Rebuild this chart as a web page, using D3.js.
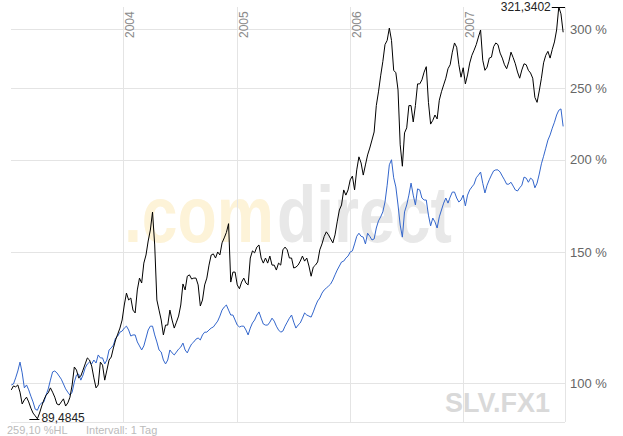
<!DOCTYPE html>
<html><head><meta charset="utf-8">
<script src="https://cdn.jsdelivr.net/npm/d3@7"></script>
<style>html,body{margin:0;padding:0;background:#fff;}svg{display:block;font-family:Arial,"Liberation Sans",sans-serif;}</style>
</head><body>
<svg id="c" width="623" height="436"></svg>
<script>
// ---- data (weekly closes, % of start) ----
const startDate = "2003-01-06";
const stepDays = 7;
const silver = [
97.9,99.1,98.8,99.4,97.2,93.7,94.9,95.7,94.3,92.5,91.1,90.3,89.4845,91.1,93.1,94.9,96.3,97.0,98.5,97.2,
95.7,93.7,93.4,94.3,95.2,93.1,94.0,95.7,99.4,105.1,104.1,101.6,102.2,104.1,106.1,108.1,107.4,105.4,101.6,98.5,
99.4,106.7,105.7,100.9,104.1,107.4,108.4,111.5,114.3,116.4,118.6,121.6,127.4,132.2,129.4,130.2,125.4,124.3,133.5,138.5,
136.4,145.1,148.8,155.4,160.8,170.0,153.5,129.4,125.4,121.6,116.1,119.7,119.7,125.4,121.6,118.6,120.8,123.1,127.4,136.0,
133.5,139.3,139.9,138.1,138.5,138.5,135.6,127.0,129.4,135.6,138.5,144.2,148.8,149.3,147.4,150.2,148.8,154.5,156.9,159.6,
164.0,136.8,141.1,141.1,135.6,134.0,136.8,138.5,136.4,135.6,147.4,150.7,149.8,152.5,153.5,147.4,145.1,147.4,145.1,148.3,
144.2,144.2,142.0,145.1,144.2,151.2,152.5,151.2,147.4,147.4,142.9,143.3,144.2,146.0,148.3,146.0,147.4,143.8,139.3,143.3,
144.2,145.6,151.2,154.0,157.6,159.9,158.4,156.4,154.5,158.4,164.9,171.1,173.8,182.1,179.2,182.1,187.9,190.1,182.1,193.8,
201.8,198.0,190.7,196.8,203.0,207.4,212.6,218.0,236.6,246.9,259.5,271.2,285.9,289.7,301.0,289.7,264.0,262.0,248.4,209.5,
196.0,217.4,220.8,236.6,236.6,224.9,236.6,253.1,253.1,256.3,262.5,267.0,239.0,223.4,226.0,229.8,227.0,240.6,247.0,252.3,
257.6,265.3,268.6,279.3,287.4,283.6,268.6,258.4,266.1,253.1,260.2,270.0,276.6,281.0,285.9,292.7,299.2,272.4,264.0,266.6,
274.2,275.0,284.1,287.4,285.9,278.5,274.2,268.6,265.3,271.1,279.3,274.6,269.4,262.6,257.6,264.3,269.4,268.6,264.0,261.8,
257.6,242.7,239.0,247.6,257.6,270.2,276.6,280.0,274.2,281.7,288.3,299.2,321.3402,314.6,297.1];
const compare = [
99.4,99.7,101.6,103.8,106.7,103.2,98.5,99.4,97.9,96.0,94.3,92.2,91.9,93.4,94.0,94.3,96.3,98.2,100.9,103.5,
103.8,103.2,102.2,101.2,99.7,98.2,97.2,96.3,97.2,100.3,102.5,102.8,100.9,102.5,104.8,106.1,106.7,106.1,107.4,106.4,
109.1,108.1,108.1,106.1,107.4,110.8,111.5,112.5,115.0,115.7,117.1,117.5,118.6,119.3,117.9,115.7,116.1,116.1,113.6,112.2,
110.8,112.2,115.0,117.9,119.3,119.3,116.1,113.6,110.8,110.1,107.4,106.1,107.4,110.8,109.8,109.1,110.1,111.1,111.8,113.2,
110.8,109.8,111.5,112.9,113.6,114.6,115.0,114.3,116.1,117.1,117.1,117.9,118.6,119.0,120.1,121.2,123.1,125.4,126.6,127.4,
125.4,123.5,123.5,121.6,119.7,119.0,119.3,119.3,117.9,116.1,118.6,120.5,121.6,123.5,124.7,122.3,120.1,119.7,119.7,120.8,
122.3,121.2,119.3,117.9,117.1,117.5,119.3,120.8,122.3,123.5,120.8,118.6,119.7,120.5,122.3,124.3,123.5,123.1,122.7,124.7,
127.0,129.0,130.2,132.2,133.5,134.3,135.1,136.0,137.7,139.9,142.0,143.8,145.6,146.0,147.4,148.3,150.2,150.7,154.0,157.7,
159.2,157.7,157.3,154.0,159.2,157.7,155.9,156.4,161.8,165.4,167.5,170.1,175.4,184.8,196.9,200.0,189.1,183.8,173.8,163.3,
157.3,170.1,173.8,179.2,186.0,179.2,173.8,182.7,182.1,177.6,176.5,176.5,168.4,162.9,166.9,164.9,161.8,167.5,171.1,174.8,
177.6,174.8,178.1,180.9,180.9,177.6,175.4,176.5,179.2,173.3,179.2,182.1,183.8,185.4,189.1,190.7,192.5,185.9,180.4,184.8,
187.9,190.7,193.2,193.8,193.8,192.5,190.1,187.9,185.4,185.4,186.5,184.3,182.1,181.5,183.3,184.8,189.5,188.9,186.5,188.9,
187.9,183.3,186.0,191.3,197.5,202.2,207.3,212.6,216.0,220.6,224.7,229.8,233.2,234.2,221.8];
const yearTicks = ["2004-01-01","2005-01-01","2006-01-01","2007-01-01"];
const yearLabels = ["2004","2005","2006","2007"];
const pctTicks = [100,150,200,250,300];
const pctLabels = ["100 %","150 %","200 %","250 %","300 %"];
const domainX = ["2003-01-05","2007-11-25"];
const domainY = [88.6, 321.3402];
const footLeft = "259,10 %HL";
const footInterval = "Intervall: 1 Tag";
const symbol = "SLV.FX1";
const wm1 = ".com", wm2 = "direct";

// ---- chart ----
const parse = d3.utcParse("%Y-%m-%d");
const t0 = parse(startDate);
const dateAt = i => d3.utcDay.offset(t0, i * stepDays);
const L = 11, R = 565, T = 7, B = 422;
const x = d3.scaleUtc().domain(domainX.map(parse)).range([L, R]);
const y = d3.scaleLog().domain(domainY).range([B, T]);
const svg = d3.select("#c");

// watermark (each part horizontally scaled to its width in the reference)
function wmText(str, x0, w, fill) {
  const t = svg.append("text").attr("x", 0).attr("y", 0)
    .attr("font-size", 80).attr("font-weight", "bold").attr("fill", fill).text(str);
  const len = t.node().getComputedTextLength() || w;
  t.attr("transform", `translate(${x0},242) scale(${w / len},1)`);
}
wmText(wm1, 124, 150, "#fdf3d8");
wmText(wm2, 277, 175, "#e8e8e8");

// grid
const grid = svg.append("g").attr("stroke", "#e4e4e4").attr("stroke-width", 1);
grid.selectAll("line.h").data(pctTicks).join("line")
  .attr("x1", L).attr("x2", R)
  .attr("y1", d => Math.round(y(d)) + 0.5).attr("y2", d => Math.round(y(d)) + 0.5);
grid.selectAll("line.v").data(yearTicks).join("line")
  .attr("y1", T).attr("y2", B)
  .attr("x1", d => Math.round(x(parse(d))) + 0.5).attr("x2", d => Math.round(x(parse(d))) + 0.5);
grid.append("line").attr("x1", R + 0.5).attr("x2", R + 0.5).attr("y1", T).attr("y2", B);
grid.append("line").attr("x1", L).attr("x2", R).attr("y1", B + 0.5).attr("y2", B + 0.5);

// year labels
svg.selectAll("text.yr").data(yearTicks).join("text")
  .attr("transform", d => `translate(${Math.round(x(parse(d))) + 11},38) rotate(-90)`)
  .attr("font-size", 12).attr("fill", "#8a8a8a").text((d, i) => yearLabels[i]);

// right axis labels
svg.selectAll("text.pct").data(pctTicks).join("text")
  .attr("x", 570).attr("y", d => y(d)).attr("dy", "0.36em")
  .attr("font-size", 13).attr("fill", "#666").text((d, i) => pctLabels[i]);

// symbol watermark
svg.append("text").attr("x", 550).attr("y", 412).attr("text-anchor", "end")
  .attr("font-size", 27).attr("font-weight", "bold").attr("fill", "#d9d9d9").text(symbol);

// lines
const line = d3.line().x((d, i) => x(dateAt(i))).y(d => y(d));
svg.append("path").datum(compare).attr("d", line).attr("fill", "none")
  .attr("stroke", "#3366cc").attr("stroke-width", 1);
svg.append("path").datum(silver).attr("d", line).attr("fill", "none")
  .attr("stroke", "#000").attr("stroke-width", 1);

// min / max annotations
const fmt = v => String(v).replace(".", ",");
const iMin = d3.minIndex(silver), iMax = d3.maxIndex(silver);
const xm = x(dateAt(iMin)), ym = Math.round(y(silver[iMin])) + 0.5;
svg.append("line").attr("x1", xm - 8).attr("x2", xm + 2).attr("y1", ym).attr("y2", ym).attr("stroke", "#000");
svg.append("text").attr("x", xm + 4).attr("y", ym + 2).attr("font-size", 12).attr("fill", "#222").text(fmt(silver[iMin]));
const xM = x(dateAt(iMax)), yM = Math.round(y(silver[iMax])) + 0.5;
svg.append("line").attr("x1", xM - 7).attr("x2", R).attr("y1", yM).attr("y2", yM).attr("stroke", "#000");
svg.append("text").attr("x", xM - 8).attr("y", yM + 3).attr("text-anchor", "end").attr("font-size", 12).attr("fill", "#222").text(fmt(silver[iMax]));

// footer
svg.append("text").attr("x", 7).attr("y", 434.2).attr("font-size", 11).attr("fill", "#bbb").text(footLeft);
svg.append("text").attr("x", 86).attr("y", 434.2).attr("font-size", 11).attr("fill", "#bbb").text(footInterval);
</script>
</body></html>
